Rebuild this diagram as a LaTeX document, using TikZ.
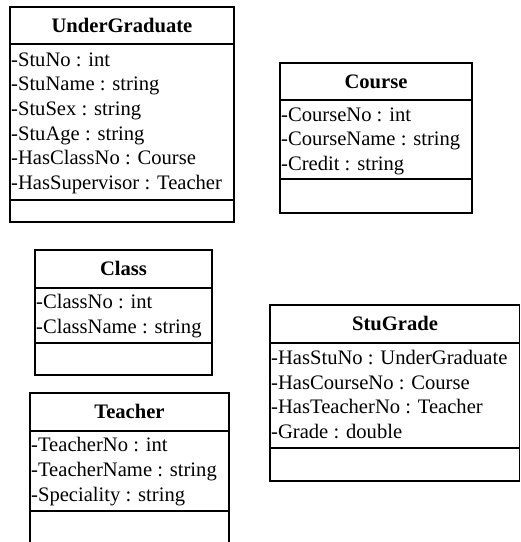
\documentclass[tikz,border=0pt]{standalone}
\usepackage{fontspec}
\setmainfont{Liberation Serif}
\begin{document}
\begin{tikzpicture}[x=1pt,y=-1pt,
  classbox/.style={draw=black, line width=1.5pt, inner sep=0pt, fill=white},
  divline/.style={draw=black, line width=1.5pt},
  ctitle/.style={anchor=base, inner sep=0pt, font=\fontsize{20.6}{24}\selectfont\bfseries},
  attr/.style={anchor=base west, inner sep=0pt, font=\fontsize{20.6}{24}\selectfont}]
\useasboundingbox (0,0) rectangle (521,542);
% UnderGraduate
\draw[classbox] (10,7) rectangle (234,222);
\draw[divline] (10,44) -- (234,44);
\draw[divline] (10,200) -- (234,200);
\node[ctitle] (ugt) at (122,32.3) {UnderGraduate};
\node[attr] (ug1) at (11,66) {-StuNo : int};
\node[attr] (ug2) at (11,90.7) {-StuName : string};
\node[attr] (ug3) at (11,115.4) {-StuSex : string};
\node[attr] (ug4) at (11,140.1) {-StuAge : string};
\node[attr] (ug5) at (11,164.8) {-HasClassNo : Course};
\node[attr] (ug6) at (11,189.5) {-HasSupervisor : Teacher};
% Course
\draw[classbox] (280,63) rectangle (472,213);
\draw[divline] (280,100) -- (472,100);
\draw[divline] (280,179) -- (472,179);
\node[ctitle] (cot) at (376,88.3) {Course};
\node[attr] (co1) at (281,121) {-CourseNo : int};
\node[attr] (co2) at (281,145.7) {-CourseName : string};
\node[attr] (co3) at (281,170.4) {-Credit : string};
% Class
\draw[classbox] (35,250) rectangle (212,375);
\draw[divline] (35,288) -- (212,288);
\draw[divline] (35,343) -- (212,343);
\node[ctitle] (clt) at (123.5,275.5) {Class};
\node[attr] (cl1) at (36,308.5) {-ClassNo : int};
\node[attr] (cl2) at (36,333.2) {-ClassName : string};
% Teacher
\draw[classbox] (30,393) rectangle (229,548);
\draw[divline] (30,431) -- (229,431);
\draw[divline] (30,511) -- (229,511);
\node[ctitle] (tet) at (129.5,418.3) {Teacher};
\node[attr] (te1) at (31,451.8) {-TeacherNo : int};
\node[attr] (te2) at (31,476.5) {-TeacherName : string};
\node[attr] (te3) at (31,501.2) {-Speciality : string};
% StuGrade
\draw[classbox] (270,305) rectangle (519.5,481);
\draw[divline] (270,343) -- (519.5,343);
\draw[divline] (270,448) -- (519.5,448);
\node[ctitle] (sgt) at (395,330.8) {StuGrade};
\node[attr] (sg1) at (271,364.3) {-HasStuNo : UnderGraduate};
\node[attr] (sg2) at (271,389) {-HasCourseNo : Course};
\node[attr] (sg3) at (271,413.7) {-HasTeacherNo : Teacher};
\node[attr] (sg4) at (271,438.4) {-Grade : double};
\end{tikzpicture}
\end{document}
